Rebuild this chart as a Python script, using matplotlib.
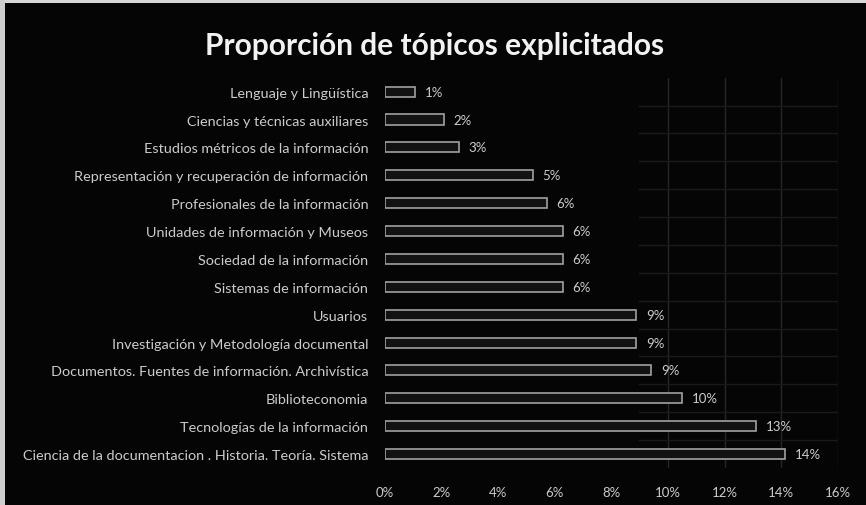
import matplotlib.pyplot as plt
from matplotlib.patches import Rectangle
from matplotlib.ticker import FuncFormatter

# Topics, top to bottom
topics = [
    "Lenguaje y Lingüística",
    "Ciencias y técnicas auxiliares",
    "Estudios métricos de la información",
    "Representación y recuperación de información",
    "Profesionales de la información",
    "Unidades de información y Museos",
    "Sociedad de la información",
    "Sistemas de información",
    "Usuarios",
    "Investigación y Metodología documental",
    "Documentos. Fuentes de información. Archivística",
    "Biblioteconomia",
    "Tecnologías de la información",
    "Ciencia de la documentacion . Historia. Teoría. Sistema",
]

# Share of each topic (percent)
shares = [1.06, 2.08, 2.61, 5.22, 5.71, 6.27, 6.27, 6.27,
          8.87, 8.87, 9.39, 10.48, 13.09, 14.11]

x_ticks = [0, 2, 4, 6, 8, 10, 12, 14, 16]

bg = "#050505"
txt = "#cccccc"
font = "Lato"

fig = plt.figure(figsize=(8.66, 5.06), dpi=100, facecolor=bg)
ax = fig.add_axes([0.4446, 0.0731, 0.5231, 0.7714], facecolor=bg)

ypos = list(range(len(topics)))

# faint grid lines on the right-hand side
for gx in x_ticks[5:]:
    ax.axvline(gx, color="#262626", lw=1.0, zorder=0)
for gy in [p + 0.5 for p in ypos[:-1]]:
    ax.axhline(gy, xmin=0.56, xmax=1.0, color="#1a1a1a", lw=1.0, zorder=0)

ax.barh(ypos, shares, height=0.36, color="#121212",
        edgecolor="#a0a0a0", linewidth=1.2, zorder=2)

for y, v in zip(ypos, shares):
    ax.text(v + 0.35, y, f"{v:.0f}%", va="center", ha="left",
            color=txt, fontsize=9.5, family=font)

ax.set_xlim(0, 16)
ax.set_ylim(len(topics) - 0.5, -0.5)
ax.set_xticks(x_ticks)
ax.xaxis.set_major_formatter(FuncFormatter(lambda v, p: f"{v:.0f}%"))
ax.set_yticks(ypos)
ax.set_yticklabels(topics)

ax.tick_params(axis="both", length=0, colors=txt)
ax.tick_params(axis="x", pad=13, labelsize=9.5)
ax.tick_params(axis="y", pad=12, labelsize=10.4)
for lab in ax.get_xticklabels() + ax.get_yticklabels():
    lab.set_family(font)
for s in ax.spines.values():
    s.set_visible(False)

fig.text(0.502, 0.91, "Proporción de tópicos explicitados", ha="center",
         va="center", color="#f2f2f2", fontsize=21.5, fontweight="bold",
         family=font)

# light frame on the top and left edges
fig.patches.append(Rectangle((0, 0.992), 1, 0.008, transform=fig.transFigure,
                             facecolor="#d8d8d8", edgecolor="none"))
fig.patches.append(Rectangle((0, 0), 0.006, 1, transform=fig.transFigure,
                             facecolor="#cfcfcf", edgecolor="none"))

fig.savefig("out.png", dpi=100, facecolor=bg)
